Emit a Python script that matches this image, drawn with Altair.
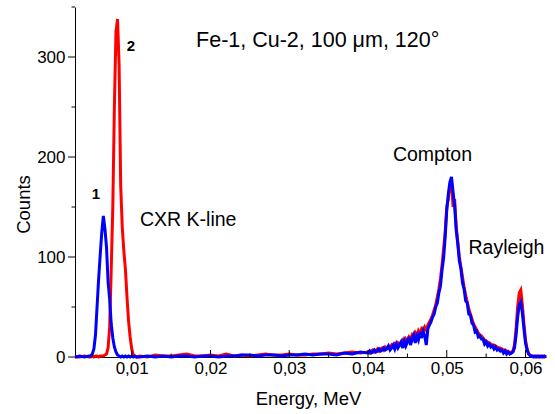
import altair as alt
import pandas as pd

# Energy grid, in units of 1e-4 MeV (0.1 keV)
energy_e4 = [
    28, 34, 40, 46,
    48, 50, 52, 54, 56, 58, 60, 62, 64, 66,
    68, 70, 72, 74, 76, 78, 80, 82, 84, 86,
    88, 90, 92, 94, 96, 98, 100, 102, 104, 106,
    110, 120, 130, 140, 150, 160, 170, 180, 190, 200,
    210, 220, 230, 240, 250, 260, 270, 280, 290, 300,
    310, 320, 330, 340, 350, 360, 370, 380, 390,
    400, 402, 404, 406, 408, 410, 412, 414, 416, 418,
    420, 422, 424, 426, 428, 430, 432, 434, 436, 438,
    440, 442, 444, 446, 448, 450, 452, 454, 456, 458,
    460, 462, 464, 466, 468, 470, 472, 474, 476, 478,
    480, 482, 484, 486, 488, 490, 492, 494, 496, 498,
    500, 502, 504, 506, 508, 510, 512, 514, 516, 518,
    520, 522, 524, 526, 528, 530, 532, 534, 536, 538,
    540, 542, 544, 546, 548, 550, 552, 554, 556, 558,
    560, 562, 564, 566, 568, 570, 572, 574, 576, 578,
    580, 582, 584, 586, 588, 590, 592, 594, 596, 598,
    600, 602, 604, 606, 608, 610, 612, 614, 616, 618,
    620, 622, 624, 626,
]

# Sample 1 (Fe) - blue
counts_fe1 = [
    0, 1, 0, 1,
    1, 3, 8, 22, 50, 78, 102, 125, 141, 128,
    110, 75, 58, 33, 19, 10, 5, 2, 1, 0,
    1, 0, 1, 0, 1, 0, 1, 0, 1, 0,
    0, 1, 0, 1, 0, 1, 1, 0, 1, 1,
    0, 1, 1, 2, 2, 1, 2, 2, 1, 2,
    2, 3, 2, 3, 3, 2, 4, 3, 5,
    4, 6, 4, 5, 7, 5, 6, 8, 6, 7,
    9, 7, 8, 11, 7, 9, 12, 8, 13, 9,
    12, 15, 9, 16, 11, 15, 20, 12, 18, 22,
    14, 21, 17, 25, 19, 26, 21, 12, 28, 32,
    35, 40, 43, 50, 54, 64, 71, 87, 99, 120,
    147, 163, 175, 180, 165, 151, 127, 113, 96, 88,
    74, 68, 56, 54, 43, 42, 34, 32, 25, 26,
    20, 21, 18, 18, 13, 15, 11, 13, 10, 11,
    8, 10, 7, 8, 6, 7, 4, 6, 3, 5,
    3, 4, 5, 9, 22, 40, 52, 55, 44, 28,
    14, 7, 3, 1, 1, 0, 1, 0, 1, 0,
    1, 0, 1, 0,
]

# Sample 2 (Cu) - red
counts_cu2 = [
    0, 0, 1, 0,
    0, 1, 0, 1, 1, 0, 1, 1, 1, 2,
    3, 9, 30, 88, 150, 250, 325, 338, 292, 172,
    130, 106, 88, 60, 36, 20, 8, 2, 1, 0,
    1, 0, 2, 1, 1, 2, 3, 1, 1, 2,
    1, 3, 1, 2, 1, 2, 3, 2, 2, 3,
    2, 2, 3, 3, 4, 3, 4, 5, 4,
    5, 4, 6, 7, 5, 6, 8, 6, 8, 9,
    7, 10, 9, 11, 10, 12, 10, 13, 11, 14,
    12, 15, 17, 13, 18, 16, 20, 18, 22, 19,
    24, 21, 26, 23, 28, 26, 30, 27, 32, 35,
    38, 42, 47, 52, 60, 68, 78, 92, 108, 125,
    150, 158, 172, 176, 150, 158, 130, 115, 100, 90,
    80, 70, 62, 55, 48, 43, 38, 33, 30, 27,
    24, 22, 21, 19, 17, 16, 15, 14, 13, 12,
    12, 11, 10, 9, 9, 8, 7, 7, 6, 5,
    5, 4, 6, 12, 28, 50, 64, 67, 52, 33,
    17, 8, 3, 2, 1, 1, 0, 1, 0, 1,
    0, 1, 0, 1,
]

x_major_ticks = [0.01, 0.02, 0.03, 0.04, 0.05, 0.06]
x_minor_ticks = [0.005, 0.015, 0.025, 0.035, 0.045, 0.055]
y_major_ticks = [0, 100, 200, 300]
y_minor_ticks = [50, 150, 250, 350]

title_text = ["Fe-1, Cu-2, 100 \u03bcm, 120\u00b0"]
title_x = [0.01817]
title_y = [310]

note_text = ["Compton", "CXR K-line", "Rayleigh"]
note_x = [0.04316, 0.01105, 0.05276]
note_y = [196, 131, 103]

peak_text = ["1", "2"]
peak_x = [0.00547, 0.00991]
peak_y = [158, 306]

assert len(energy_e4) == len(counts_fe1) == len(counts_cu2)

energy = [e / 10000 for e in energy_e4]
df_fe = pd.DataFrame({"energy": energy, "counts": counts_fe1})
df_cu = pd.DataFrame({"energy": energy, "counts": counts_cu2})

FONT = "Liberation Sans"
xscale = alt.Scale(domain=[0.0028, 0.0626], nice=False, zero=False)
yscale = alt.Scale(domain=[0, 350], nice=False)

xaxis = alt.Axis(
    values=x_major_ticks,
    labelExpr="replace(format(datum.value, '.2f'), '.', ',')",
    ticks=False, tickSize=0, grid=False, labelPadding=3,
    title="Energy, MeV", titleX=233, titleY=47,
    titleBaseline="alphabetic", titleAlign="center",
)
yaxis = alt.Axis(
    values=y_major_ticks, ticks=False, tickSize=0, grid=False, labelPadding=10,
    title="Counts", titleAngle=270, titleX=-46, titleY=197,
    titleBaseline="alphabetic", titleAlign="center",
)

X = alt.X("energy:Q", scale=xscale, axis=xaxis, title="Energy, MeV")
Y = alt.Y("counts:Q", scale=yscale, axis=yaxis, title="Counts")

red = alt.Chart(df_cu).mark_line(color="#ff0000", strokeWidth=3).encode(x=X, y=Y)
blue = alt.Chart(df_fe).mark_line(color="#0000ff", strokeWidth=3).encode(x=X, y=Y)

def xticks(vals, length):
    return alt.Chart(pd.DataFrame({"energy": vals})).mark_rule(color="black", strokeWidth=1).encode(
        x=X, y=alt.value(350), y2=alt.value(350 - length),
    )

def yticks(vals, length):
    return alt.Chart(pd.DataFrame({"counts": vals})).mark_rule(color="black", strokeWidth=1).encode(
        y=Y, x=alt.value(-length), x2=alt.value(0),
    )

def texts(xs, ys, labels, **kw):
    return alt.Chart(pd.DataFrame({"energy": xs, "counts": ys, "label": labels})).mark_text(
        baseline="alphabetic", font=FONT, color="black", **kw
    ).encode(x=X, y=Y, text="label:N")

title = texts(title_x, title_y, title_text, align="left", fontSize=21.5)
notes = texts(note_x, note_y, note_text, align="left", fontSize=19.5)
peaks = texts(peak_x, peak_y, peak_text, align="center", fontSize=15, fontWeight="bold")

chart = alt.layer(
    red, blue,
    xticks(x_major_ticks, 7), xticks(x_minor_ticks, 3.5),
    yticks(y_major_ticks, 7), yticks(y_minor_ticks, 3.5),
    title, notes, peaks,
).properties(
    width=471, height=350,
    padding={"left": 75, "top": 7, "right": 9, "bottom": 57},
    autosize=alt.AutoSizeParams(type="none"),
).configure_view(stroke=None).configure_axis(
    domainColor="black", domainWidth=1, labelColor="black", labelFont=FONT,
    labelFontSize=17, titleFont=FONT, titleFontSize=18.5, titleFontWeight="normal",
    titleColor="black",
)

chart.save("out.html", embed_options={"renderer": "svg", "actions": False})
